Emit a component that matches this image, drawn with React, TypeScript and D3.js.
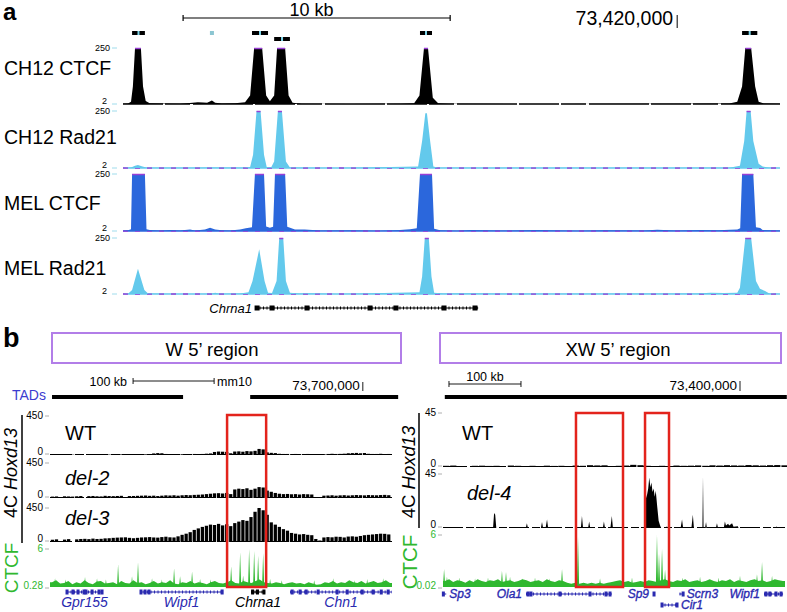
import React from 'react';
import * as d3 from 'd3';

type P = [number, number];

const FONT = "'Liberation Sans', Arial, Helvetica, sans-serif";

// ================= Panel a (positions: kb from window start 73,399,250) =================
const aWindowStartKb = 73399.25;
const aDomain: P = [0, 24.6];
const aTrackNames = ['CH12 CTCF', 'CH12 Rad21', 'MEL CTCF', 'MEL Rad21'];
const aTrackMin = 2;
const aTrackMax = 250;

const ch12Ctcf: P[] = [
  [0, 3], [0.19, 4], [0.3, 12], [0.37, 80], [0.45, 250], [0.67, 250], [0.75, 80], [0.85, 15], [1.0, 5], [1.4, 4],
  [2.13, 3], [2.5, 6], [2.8, 10], [3.0, 9], [3.15, 8], [3.33, 18], [3.45, 8], [3.7, 4], [4.2, 5], [4.57, 10],
  [4.76, 40], [4.91, 250], [5.21, 250], [5.36, 40], [5.5, 14], [5.66, 40], [5.77, 250], [6.07, 250], [6.2, 40],
  [6.35, 8], [6.7, 3], [8.5, 2], [10.4, 3], [10.9, 5], [11.1, 40], [11.27, 250], [11.42, 250], [11.6, 30],
  [11.8, 5], [12.2, 3], [16, 2], [21, 3], [22.7, 4], [23.0, 12], [23.18, 80], [23.3, 250], [23.52, 250],
  [23.67, 80], [23.8, 12], [24.0, 4], [24.6, 3],
];
const ch12Rad21: P[] = [
  [0, 2], [0.3, 4], [0.45, 12], [0.56, 15], [0.7, 10], [0.9, 3], [2.5, 3], [3.3, 4], [4.5, 3], [4.76, 6],
  [4.87, 60], [5.0, 250], [5.15, 250], [5.28, 60], [5.38, 6], [5.55, 5], [5.66, 30], [5.8, 250], [5.95, 250],
  [6.1, 30], [6.25, 4], [8, 2], [11.05, 8], [11.2, 120], [11.32, 240], [11.38, 240], [11.5, 120], [11.62, 8],
  [11.8, 3], [22.7, 3], [23.1, 12], [23.26, 120], [23.35, 250], [23.5, 250], [23.6, 120], [23.8, 20],
  [23.95, 8], [24.2, 3], [24.6, 2],
];
const melCtcf: P[] = [
  [0, 3], [0.19, 5], [0.3, 10], [0.34, 250], [0.82, 250], [0.88, 10], [1.0, 6], [1.39, 4], [1.76, 6], [2.13, 4],
  [2.51, 9], [2.7, 4], [3.07, 8], [3.26, 16], [3.45, 8], [3.7, 5], [4.01, 4], [4.38, 8], [4.6, 14], [4.83, 18],
  [4.94, 250], [5.28, 250], [5.36, 22], [5.5, 16], [5.62, 20], [5.69, 250], [6.07, 250], [6.15, 20], [6.44, 9],
  [6.8, 8], [7.38, 4], [8.5, 5], [9.5, 3], [10.37, 6], [10.75, 10], [11.0, 14], [11.12, 250], [11.57, 250],
  [11.65, 12], [11.87, 5], [12.5, 3], [13.0, 6], [14.1, 4], [15.5, 6], [17.0, 3], [18.0, 5], [19.5, 4],
  [20.0, 7], [20.7, 4], [21.6, 6], [22.3, 5], [22.73, 7], [23.0, 8], [23.11, 14], [23.18, 250], [23.6, 250],
  [23.7, 18], [23.86, 15], [23.95, 6], [24.6, 4],
];
const melRad21: P[] = [
  [0, 2], [0.19, 3], [0.34, 20], [0.56, 114], [0.8, 20], [0.94, 4], [2.0, 2], [3.3, 3], [3.45, 8], [3.6, 3],
  [4.38, 4], [4.7, 10], [4.85, 60], [5.1, 200], [5.3, 60], [5.43, 8], [5.58, 6], [5.75, 60], [5.85, 250],
  [6.0, 250], [6.1, 60], [6.25, 8], [6.6, 4], [7.0, 5], [8.0, 2], [11.1, 10], [11.2, 80], [11.3, 250],
  [11.45, 250], [11.55, 80], [11.65, 8], [12.0, 4], [13, 5], [15, 3], [21.5, 4], [22.0, 8], [22.5, 6], [23.0, 8],
  [23.1, 30], [23.3, 250], [23.52, 250], [23.7, 60], [23.85, 25], [24.04, 15], [24.2, 4], [24.6, 2],
];
const aTrackData = [ch12Ctcf, ch12Rad21, melCtcf, melRad21];
const aPeakCalls: P[] = [[0.34, 0.82], [4.83, 5.43], [5.66, 6.25], [11.12, 11.57], [23.18, 23.75]];
const aPeakCallRow = [0, 0, 1, 0, 0];
const aLonePeak = 3.33;
const aScaleBar: P = [2.25, 12.25];
const aScaleLabel = '10 kb';
const aCoordTickKb = 73420;
const chrna1ASpan: P = [4.98, 13.3];
const chrna1AExons = [5.02, 5.58, 6.89, 9.25, 10.22, 12.02, 13.18];

// ================= Panel b (positions in kb) =================
const bLeftDomain: P = [73314, 73736];
const bRightDomain: P = [72987.5, 73462.5];
const leftBinStart = 73315;
const leftBinKb = 5;
const wtLeft = [
  4, 5, 0, 5, 6, 4, 5, 6, 0, 5, 6, 5, 4, 6, 5,
  6, 5, 7, 0, 6,
  8, 6, 7, 8, 10, 18, 22, 20, 12, 10, 8, 10,
  9, 8, 10, 12, 10,
  12, 15, 18,
  35, 40, 38, 36,
  20, 40, 42, 38, 45,
  42, 48, 70, 65, 30, 25, 22,
  14, 12, 12,
  10, 12, 11, 10, 12, 10,
  0, 4,
  10, 12, 14, 12, 13, 15, 20, 22, 24, 20, 23, 14, 12, 12, 14, 10, 12,
];
const del2Left = [
  18, 20, 0, 22, 20, 18, 22, 25, 0, 24, 26, 22, 20, 28, 25,
  24, 26, 28, 0, 25,
  26, 28, 30, 32, 28, 30, 25, 30, 34, 32, 35, 30,
  35, 38, 36, 40, 42,
  45, 50, 55,
  60, 62, 58, 65,
  50, 110, 120, 115, 125,
  105, 120, 140, 135, 95, 80, 65,
  55, 50, 52,
  48, 50, 45, 50, 48, 45,
  0, 10,
  30, 32, 35, 30, 34, 36, 32, 35, 38, 36, 34, 38, 36, 35, 38, 40, 36,
];
const del3Left = [
  30, 35, 0, 32, 38, 0, 35, 40, 42, 38, 45, 40, 42, 48, 50,
  55, 58, 60, 62, 55,
  50, 55, 60, 62, 65, 60, 58, 65, 70, 62, 60, 75,
  95, 110, 130, 160, 180,
  200, 215, 230,
  225, 240, 220, 235,
  210, 250, 270, 290, 280,
  330, 400, 450, 420, 360, 260, 230,
  200, 170, 150,
  120, 110, 100, 105, 95, 90,
  40, 20,
  60, 65, 62, 70, 68, 60, 72, 75, 70, 80, 90, 95, 100, 105, 110, 108, 100,
];
const leftTracks = [
  { name: 'WT', data: wtLeft },
  { name: 'del-2', data: del2Left },
  { name: 'del-3', data: del3Left },
];
const fourCLeftMax = 450;
const ctcfLeftRange: P = [0.28, 6];
const ctcfLeftBg = [
  1.0, 1.3, 0.8, 0.9, 1.2, 0.7, 1.0, 0.8, 1.3, 0.9, 0.7, 1.1, 1.2, 0.8, 0.9, 1.0, 0.7, 1.2, 0.9, 0.8,
  1.3, 0.9, 1.0, 0.7, 0.9, 1.2, 0.8, 1.0, 0.9, 1.3, 0.8, 0.7, 1.0, 0.9, 1.2, 0.8, 1.0, 0.9, 0.7, 1.0,
  1.2, 0.9, 0.8, 1.0, 1.3, 0.9, 0.8, 1.2, 1.0, 0.9, 1.2, 1.4, 1.0, 0.9, 0.8, 1.0, 0.9, 0.7, 0.9, 1.0,
  0.8, 0.9, 0.7, 1.0, 0.8, 0.6, 0.7, 1.0, 0.9, 1.2, 0.8, 1.0, 0.9, 1.3, 1.0, 0.9, 1.2, 0.8, 1.0, 1.2,
  0.9, 1.0, 1.3, 0.9,
];
const ctcfLeftSpikes: P[] = [
  [73320.2, 1.6], [73333.0, 1.4], [73357.2, 1.8], [73372.0, 1.6], [73383.0, 1.4], [73398.0, 3.7], [73415.2, 1.9],
  [73422.6, 4.0], [73439.9, 1.6], [73452.0, 1.4], [73467.1, 3.1], [73474.5, 1.9], [73489.3, 2.6], [73499.2, 1.5],
  [73512.0, 1.4], [73537.5, 3.4], [73548.6, 5.5], [73552.3, 2.0], [73559.7, 6.0], [73565.9, 5.7], [73570.8, 5.0],
  [73577.0, 5.4], [73585.6, 1.5], [73600.0, 1.3], [73640.0, 1.3], [73663.4, 1.6], [73690.0, 1.3], [73705.4, 1.5],
  [73725.1, 1.6],
];

const rightWtBinKb = 10;
const wtRight = [
  1, 1.2, 0.8, 0, 1, 1.1, 0.9, 1, 0, 1.2, 1, 0.8, 1, 0, 1.1, 0.9, 1, 0.8, 1.2, 1, 1.5, 1.3, 1.4, 0,
  1, 1.2, 1.8, 1.5, 1, 0.8, 1, 0, 1.2, 1, 1.1, 1.3, 1, 1.4, 1.2, 1.5, 1.3, 1.2, 1.6, 1.4, 1.2, 1.5, 1.6, 1.4,
];
const del4Right: P[] = [
  [72988, 0], [73057, 0], [73058.5, 12.5], [73060, 11], [73061.5, 0],
  [73102.5, 0], [73104, 4], [73105.5, 0],
  [73123.5, 0], [73125, 5], [73126.5, 0],
  [73130, 0], [73132, 7], [73133.5, 0],
  [73179, 0], [73180.5, 10], [73182, 0],
  [73189, 0], [73190.5, 5.5], [73192, 0],
  [73209.5, 0], [73211, 5.5], [73212.5, 0],
  [73220, 0], [73222, 10], [73223.5, 0],
  [73268, 0], [73269, 24], [73271, 28], [73272.5, 33], [73274, 42], [73275.5, 34], [73277, 38],
  [73278.5, 30], [73280, 33], [73281.5, 26], [73283, 31], [73285, 18], [73287, 6], [73289, 2], [73290.5, 0],
  [73297, 0], [73298.5, 1.5], [73300, 0],
  [73317.5, 0], [73319.5, 7], [73321, 0],
  [73332.5, 0], [73334.5, 11], [73336, 0],
  [73347.8, 0], [73348.6, 43], [73349.4, 0],
  [73351.5, 0], [73352.8, 5], [73354, 0],
  [73366.5, 0], [73368, 4], [73369.5, 0],
  [73377.5, 0], [73379, 5.5], [73380.5, 2], [73383.5, 3.5], [73385, 2], [73389, 4], [73391, 1], [73397, 1.5], [73398, 0],
  [73450, 0], [73451, 1.5], [73452.5, 0],
  [73462, 0],
];
const fourCRightMax = 45;
const ctcfRightRange: P = [0.02, 6];
const ctcfRightBg = [
  0.7, 0.9, 0.6, 0.8, 0.7, 0.5, 0.8, 0.6, 0.9, 0.7, 0.6, 0.8, 0.7, 0.9, 0.6, 0.7, 0.8, 0.6, 0.7, 0.9,
  0.8, 0.6, 0.7, 0.8, 0.6, 0.9, 0.7, 0.6, 0.8, 0.7, 0.5, 0.4, 0.5, 0.4, 0.5, 0.4, 0.5, 0.4, 0.5, 0.4,
  0.5, 0.6, 0.7, 0.8, 0.6, 0.7, 0.5, 0.6, 0.7, 0.6, 0.8, 0.7, 0.6, 0.8, 0.9, 0.7, 0.6, 0.8, 0.7, 0.9,
  0.6, 0.7, 0.8, 0.6, 0.7, 0.9, 0.7, 0.6, 0.8, 0.7, 0.9, 0.6, 0.8, 0.7, 0.6, 0.8, 0.9, 0.7, 0.8, 0.6,
  0.7, 0.9, 0.8, 0.7,
];
const ctcfRightSpikes: P[] = [
  [72989, 2.1], [72993, 1.2], [73010, 1.1], [73032, 1.0], [73050, 1.1], [73069.4, 1.9], [73075.0, 1.75],
  [73080.6, 1.2], [73098, 1.0], [73115.3, 1.1], [73135, 1.0], [73152.8, 2.1], [73175.0, 5.8], [73205.6, 1.0],
  [73250, 1.1], [73284.7, 6.0], [73287.5, 3.85], [73291.7, 4.4], [73295.9, 2.0], [73320, 1.1], [73344.5, 1.2],
  [73370, 1.1], [73400, 1.3], [73423.6, 1.5], [73430.6, 2.9], [73444.5, 1.3],
];

const tadsLeft: P[] = [[73316.5, 73478.2], [73561, 73743.6]];
const tadsRight: P[] = [[72990, 73465]];
const leftScaleBar: P = [73416.5, 73516.5];
const rightScaleBar: P = [72995.8, 73095.8];
const leftCoordTickKb = 73700;
const rightCoordTickKb = 73400;
const leftRedBoxes: P[] = [[73532.5, 73580.7]];
const rightRedBoxes: P[] = [[73172.2, 73237.5], [73268.1, 73301.4]];

type Gene = { name: string; span: P; exons: number[]; side: string; row: number; black?: boolean };
const leftGenes: Gene[] = [
  { name: 'Gpr155', span: [73335, 73378.2], exons: [73335, 73342.4, 73348.6, 73356, 73358.4, 73365.9, 73374.5, 73378.2], side: 'below', row: 0 },
  { name: 'Wipf1', span: [73425.1, 73527.6], exons: [73426.3, 73431.3, 73436.2, 73526.4], side: 'below', row: 0 },
  { name: 'Chrna1', span: [73562.1, 73579.4], exons: [73564, 73570, 73578], side: 'below', row: 0, black: true },
  { name: 'Chn1', span: [73610.3, 73736], exons: [73612.8, 73622.6, 73630.1, 73644.9, 73668.3, 73680.7, 73699.2, 73712.8, 73722.7, 73731.3], side: 'below', row: 0 },
];
const rightGenes: Gene[] = [
  { name: 'Sp3', span: [72987.5, 72992], exons: [72988], side: 'right', row: 0 },
  { name: 'Ola1', span: [73102.8, 73222.2], exons: [73105.6, 73109.7, 73150, 73191.7, 73213.9, 73219.5], side: 'left', row: 0 },
  { name: 'Sp9', span: [73279.2, 73282], exons: [73280.6], side: 'left', row: 0 },
  { name: 'Scrn3', span: [73316, 73322], exons: [73321], side: 'right', row: 0 },
  { name: 'Wipf1', span: [73433.4, 73459.8], exons: [73436, 73441.5, 73450, 73457], side: 'left', row: 0 },
  { name: 'Cir1', span: [73290.3, 73313.9], exons: [73291.7, 73312.5], side: 'right', row: 1 },
];

// ================= colours =================
const C_CYAN = '#63c9ec';
const C_MELBLUE = '#2b67dc';
const C_PURPLE = '#9a3fd6';
const C_GREEN = '#2fb82f';
const C_RED = '#e3231c';
const C_BOX = '#b27ee8';
const C_GENE = '#2a2ab0';
const C_TAD = '#3c3cd0';

function areaPath(pts: P[], x: d3.ScaleLinear<number, number>, y: d3.ScaleLinear<number, number>) {
  const base = y.range()[0];
  return d3.area<P>().x(d => x(d[0])).y0(base).y1(d => y(d[1]))(pts) || '';
}

function spikePath(s: P[], x: d3.ScaleLinear<number, number>, y: d3.ScaleLinear<number, number>, halfKb: number) {
  const line = d3.line<P>().x(d => x(d[0])).y(d => y(d[1]));
  return s.map(([k, v]) => line([[k - halfKb, y.domain()[0]], [k, v], [k + halfKb, y.domain()[0]]]) + 'Z').join(' ');
}

function bgPoints(bg: number[], domain: P): P[] {
  const w = (domain[1] - domain[0]) / bg.length;
  const pts: P[] = bg.map((v, i) => [domain[0] + (i + 0.5) * w, v] as P);
  return [[domain[0], bg[0]], ...pts, [domain[1], bg[bg.length - 1]]];
}

function GeneMark({ g, x, y, color }: { g: Gene; x: d3.ScaleLinear<number, number>; y: number; color: string }) {
  const x0 = x(g.span[0]);
  const x1 = x(g.span[1]);
  return (
    <g>
      <line x1={x0} x2={x1} y1={y} y2={y} stroke={color} strokeWidth={1} />
      <line x1={x0} x2={x1} y1={y} y2={y} stroke={color} strokeWidth={3} strokeDasharray="1 2.5" />
      {g.exons.map((e, i) => (
        <rect key={i} x={x(e) - 1.5} y={y - 2.5} width={3} height={5} fill={color} />
      ))}
    </g>
  );
}

function PanelA() {
  const xa = d3.scaleLinear().domain(aDomain).range([123, 780]);
  const layout = [
    { top: 48, bottom: 104, label: 75 },
    { top: 111, bottom: 168, label: 144 },
    { top: 174, bottom: 231, label: 210 },
    { top: 238, bottom: 294, label: 275 },
  ];
  const fills = ['#000000', C_CYAN, C_MELBLUE, C_CYAN];
  const coordX = xa(aCoordTickKb - aWindowStartKb);
  return (
    <g>
      <text x={3} y={20} fontSize={24} fontWeight="bold">a</text>
      {/* scale bar */}
      <line x1={xa(aScaleBar[0])} x2={xa(aScaleBar[1])} y1={18} y2={18} stroke="#000" strokeWidth={1.2} />
      <line x1={xa(aScaleBar[0])} x2={xa(aScaleBar[0])} y1={15} y2={21} stroke="#000" strokeWidth={1.2} />
      <line x1={xa(aScaleBar[1])} x2={xa(aScaleBar[1])} y1={15} y2={21} stroke="#000" strokeWidth={1.2} />
      <text x={(xa(aScaleBar[0]) + xa(aScaleBar[1])) / 2 - 5} y={15.5} fontSize={18} textAnchor="middle">{aScaleLabel}</text>
      <text x={coordX - 4} y={25} fontSize={19.5} textAnchor="end">{d3.format(',')(aCoordTickKb * 1000)}</text>
      <line x1={coordX} x2={coordX} y1={15} y2={28} stroke="#000" strokeWidth={1} />
      {/* peak calls */}
      {aPeakCalls.map((p, i) => {
        const yy = aPeakCallRow[i] === 0 ? 31 : 37;
        const cx = xa((p[0] + p[1]) / 2);
        return (
          <g key={i}>
            <rect x={xa(p[0])} y={yy} width={xa(p[1]) - xa(p[0])} height={4} fill="#000" />
            <rect x={cx - 1} y={yy} width={2} height={4} fill="#7fd6ea" />
          </g>
        );
      })}
      <rect x={xa(aLonePeak) - 2} y={31} width={4} height={4} fill="#8cc6d2" />
      {aTrackData.map((data, i) => {
        const L = layout[i];
        const y = d3.scaleLinear().domain([aTrackMin, aTrackMax]).range([L.bottom, L.top]).clamp(true);
        const clipped: P[] = [];
        for (let j = 0; j < data.length - 1; j++) {
          if (data[j][1] >= aTrackMax && data[j + 1][1] >= aTrackMax) clipped.push([data[j][0], data[j + 1][0]]);
        }
        return (
          <g key={i}>
            <text x={4} y={L.label} fontSize={19.5}>{aTrackNames[i]}</text>
            <text x={110} y={L.top + 3} fontSize={9} textAnchor="end">{aTrackMax}</text>
            <line x1={112} x2={117} y1={L.top} y2={L.top} stroke="#9fdcec" strokeWidth={1} />
            <text x={107} y={L.bottom - 0.5} fontSize={9} textAnchor="end">{aTrackMin}</text>
            <line x1={112} x2={117} y1={L.bottom} y2={L.bottom} stroke="#9fdcec" strokeWidth={1} />
            {i === 0 ? (
              <line x1={xa(aDomain[0])} x2={xa(aDomain[1])} y1={L.bottom} y2={L.bottom} stroke="#000" strokeWidth={1.3} strokeDasharray="40 2 25 3 60 2" />
            ) : (
              <g>
                <line x1={xa(aDomain[0])} x2={xa(aDomain[1])} y1={L.bottom} y2={L.bottom} stroke={fills[i]} strokeWidth={1.3} />
                <line x1={xa(aDomain[0])} x2={xa(aDomain[1])} y1={L.bottom} y2={L.bottom} stroke={C_PURPLE} strokeWidth={1.3} strokeDasharray="5 7" />
              </g>
            )}
            <path d={areaPath(data, xa, y)} fill={fills[i]} />
            {clipped.map((c, j) => (
              <line key={j} x1={xa(c[0])} x2={xa(c[1])} y1={L.top + 0.5} y2={L.top + 0.5} stroke={C_PURPLE} strokeWidth={1.5} />
            ))}
          </g>
        );
      })}
      {/* Chrna1 gene */}
      <text x={xa(chrna1ASpan[0]) - 4} y={313} fontSize={13} fontStyle="italic" textAnchor="end">Chrna1</text>
      <GeneMark g={{ name: 'Chrna1', span: chrna1ASpan, exons: [], side: 'left', row: 0 }} x={xa} y={308} color="#000" />
      {chrna1AExons.map((e, i) => (
        <rect key={i} x={xa(e) - 2.5} y={305.5} width={5} height={5} fill="#000" />
      ))}
    </g>
  );
}

function FourCAxisLabels({ x, top, bottom, max, min, color }: { x: number; top: number; bottom: number; max: string; min: string; color: string }) {
  return (
    <g fill={color}>
      <text x={x} y={top + 3} fontSize={10} textAnchor="end">{max}</text>
      <line x1={x + 2} x2={x + 6} y1={top} y2={top} stroke="#999" strokeWidth={0.8} />
      <text x={x} y={bottom} fontSize={10} textAnchor="end">{min}</text>
      <line x1={x + 2} x2={x + 6} y1={bottom - 1} y2={bottom - 1} stroke="#999" strokeWidth={0.8} />
    </g>
  );
}

function PanelB() {
  const xL = d3.scaleLinear().domain(bLeftDomain).range([50, 392]);
  const xR = d3.scaleLinear().domain(bRightDomain).range([443, 785]);
  const leftLayout = [
    { top: 416, bottom: 455, label: 440 },
    { top: 463, bottom: 498, label: 485 },
    { top: 508, bottom: 542, label: 525 },
  ];
  const ctcfL = { top: 549, bottom: 587 };
  const wtR = { top: 413, bottom: 467 };
  const del4R = { top: 474, bottom: 528 };
  const ctcfR = { top: 535, bottom: 587 };
  const binPx = xL(leftBinStart + leftBinKb) - xL(leftBinStart);
  const yCL = d3.scaleLinear().domain(ctcfLeftRange).range([ctcfL.bottom, ctcfL.top]).clamp(true);
  const yCR = d3.scaleLinear().domain(ctcfRightRange).range([ctcfR.bottom, ctcfR.top]).clamp(true);
  const yWR = d3.scaleLinear().domain([0, fourCRightMax]).range([wtR.bottom, wtR.top]);
  const yD4 = d3.scaleLinear().domain([0, fourCRightMax]).range([del4R.bottom, del4R.top]);
  const wtRBinPx = xR(bRightDomain[0] + rightWtBinKb) - xR(bRightDomain[0]);
  return (
    <g>
      <text x={3} y={347} fontSize={27} fontWeight="bold">b</text>
      <rect x={52} y={333} width={349} height={30} fill="none" stroke={C_BOX} strokeWidth={2} />
      <rect x={440} y={333} width={341} height={30} fill="none" stroke={C_BOX} strokeWidth={2} />
      <text x={212} y={356} fontSize={18.5} textAnchor="middle">W 5’ region</text>
      <text x={618} y={356} fontSize={18.5} textAnchor="middle">XW 5’ region</text>

      {/* left scale + coordinate */}
      <text x={xL(leftScaleBar[0]) - 6} y={386} fontSize={12.5} textAnchor="end">100 kb</text>
      <line x1={xL(leftScaleBar[0])} x2={xL(leftScaleBar[1])} y1={381} y2={381} stroke="#000" strokeWidth={0.9} />
      <line x1={xL(leftScaleBar[0])} x2={xL(leftScaleBar[0])} y1={378} y2={384} stroke="#000" strokeWidth={0.9} />
      <line x1={xL(leftScaleBar[1])} x2={xL(leftScaleBar[1])} y1={378} y2={384} stroke="#000" strokeWidth={0.9} />
      <text x={xL(leftScaleBar[1]) + 3} y={386} fontSize={12.5}>mm10</text>
      <text x={xL(leftCoordTickKb) - 3} y={390} fontSize={13.5} textAnchor="end">{d3.format(',')(leftCoordTickKb * 1000)}</text>
      <line x1={xL(leftCoordTickKb)} x2={xL(leftCoordTickKb)} y1={382} y2={391} stroke="#000" strokeWidth={0.9} />
      {/* right scale + coordinate */}
      <text x={(xR(rightScaleBar[0]) + xR(rightScaleBar[1])) / 2} y={381} fontSize={12.5} textAnchor="middle">100 kb</text>
      <line x1={xR(rightScaleBar[0])} x2={xR(rightScaleBar[1])} y1={384} y2={384} stroke="#000" strokeWidth={0.9} />
      <line x1={xR(rightScaleBar[0])} x2={xR(rightScaleBar[0])} y1={381} y2={387} stroke="#000" strokeWidth={0.9} />
      <line x1={xR(rightScaleBar[1])} x2={xR(rightScaleBar[1])} y1={381} y2={387} stroke="#000" strokeWidth={0.9} />
      <text x={xR(rightCoordTickKb) - 3} y={390} fontSize={13.5} textAnchor="end">{d3.format(',')(rightCoordTickKb * 1000)}</text>
      <line x1={xR(rightCoordTickKb)} x2={xR(rightCoordTickKb)} y1={381} y2={391} stroke="#000" strokeWidth={0.9} />

      {/* TADs */}
      <text x={12} y={400} fontSize={14} fill={C_TAD}>TADs</text>
      {tadsLeft.map((t, i) => (
        <rect key={'tl' + i} x={xL(t[0])} y={395} width={xL(t[1]) - xL(t[0])} height={4} fill="#000" />
      ))}
      {tadsRight.map((t, i) => (
        <rect key={'tr' + i} x={xR(t[0])} y={395} width={xR(t[1]) - xR(t[0])} height={4} fill="#000" />
      ))}

      {/* vertical labels & axis lines */}
      <line x1={22} x2={22} y1={415} y2={543} stroke="#000" strokeWidth={1.5} />
      <text transform="translate(17,473) rotate(-90)" fontSize={18} textAnchor="middle">4C <tspan fontStyle="italic">Hoxd13</tspan></text>
      <text transform="translate(17.5,568) rotate(-90)" fontSize={19} textAnchor="middle" fill={C_GREEN}>CTCF</text>
      <line x1={419} x2={419} y1={413} y2={528} stroke="#000" strokeWidth={1.5} />
      <text transform="translate(415,472) rotate(-90)" fontSize={18.5} textAnchor="middle">4C <tspan fontStyle="italic">Hoxd13</tspan></text>
      <text transform="translate(416.5,562) rotate(-90)" fontSize={20.5} textAnchor="middle" fill={C_GREEN}>CTCF</text>

      {/* left 4C tracks */}
      {leftTracks.map((t, i) => {
        const L = leftLayout[i];
        const y = d3.scaleLinear().domain([0, fourCLeftMax]).range([L.bottom, L.top]);
        return (
          <g key={i}>
            <FourCAxisLabels x={43} top={L.top} bottom={L.bottom} max={String(fourCLeftMax)} min="0" color="#000" />
            <line x1={xL(bLeftDomain[0])} x2={xL(bLeftDomain[1])} y1={L.bottom - 0.5} y2={L.bottom - 0.5} stroke="#000" strokeWidth={1} strokeDasharray="22 3 9 2" />
            {t.data.map((v, j) => v > 0 ? (
              <rect key={j} x={xL(leftBinStart + j * leftBinKb)} y={y(v)} width={binPx - 0.8} height={L.bottom - y(v)} fill="#000" />
            ) : null)}
            <text x={65} y={L.label} fontSize={20} fontStyle={i === 0 ? 'normal' : 'italic'}>{t.name}</text>
          </g>
        );
      })}
      {/* left CTCF */}
      <FourCAxisLabels x={43} top={ctcfL.top} bottom={ctcfL.bottom + 2} max={String(ctcfLeftRange[1])} min={String(ctcfLeftRange[0])} color={C_GREEN} />
      <path d={areaPath(bgPoints(ctcfLeftBg, bLeftDomain), xL, yCL)} fill={C_GREEN} />
      <path d={spikePath(ctcfLeftSpikes, xL, yCL, 1.3)} fill={C_GREEN} />

      {/* right WT */}
      <FourCAxisLabels x={436} top={wtR.top} bottom={wtR.bottom} max={String(fourCRightMax)} min="0" color="#000" />
      <line x1={xR(bRightDomain[0])} x2={xR(bRightDomain[1])} y1={wtR.bottom - 0.5} y2={wtR.bottom - 0.5} stroke="#000" strokeWidth={1} strokeDasharray="24 3 10 2" />
      {wtRight.map((v, j) => v > 0 ? (
        <rect key={j} x={xR(bRightDomain[0] + j * rightWtBinKb)} y={yWR(v)} width={wtRBinPx - 1} height={wtR.bottom - yWR(v)} fill="#000" />
      ) : null)}
      <text x={462} y={440} fontSize={20}>WT</text>
      {/* right del-4 */}
      <FourCAxisLabels x={436} top={del4R.top} bottom={del4R.bottom} max={String(fourCRightMax)} min="0" color="#000" />
      <line x1={xR(bRightDomain[0])} x2={xR(bRightDomain[1])} y1={del4R.bottom - 0.5} y2={del4R.bottom - 0.5} stroke="#000" strokeWidth={1} strokeDasharray="20 3 8 2" />
      <path d={areaPath(del4Right, xR, yD4)} fill="#000" />
      <text x={467} y={500} fontSize={20} fontStyle="italic">del-4</text>
      {/* right CTCF */}
      <FourCAxisLabels x={436} top={ctcfR.top} bottom={ctcfR.bottom + 2} max={String(ctcfRightRange[1])} min={String(ctcfRightRange[0])} color={C_GREEN} />
      <path d={areaPath(bgPoints(ctcfRightBg, bRightDomain), xR, yCR)} fill={C_GREEN} />
      <path d={spikePath(ctcfRightSpikes, xR, yCR, 1.6)} fill={C_GREEN} />

      {/* red boxes */}
      {leftRedBoxes.map((b, i) => (
        <rect key={'rl' + i} x={xL(b[0])} y={415} width={xL(b[1]) - xL(b[0])} height={172} fill="none" stroke={C_RED} strokeWidth={2.5} />
      ))}
      {rightRedBoxes.map((b, i) => (
        <rect key={'rr' + i} x={xR(b[0])} y={413} width={xR(b[1]) - xR(b[0])} height={174} fill="none" stroke={C_RED} strokeWidth={2.5} />
      ))}

      {/* genes */}
      {leftGenes.map((g, i) => {
        const color = g.black ? '#000' : C_GENE;
        return (
          <g key={'gl' + i}>
            <GeneMark g={g} x={xL} y={592} color={color} />
            <text x={(xL(g.span[0]) + xL(g.span[1])) / 2} y={607} fontSize={14} fontStyle="italic" textAnchor="middle" fill={color}>{g.name}</text>
          </g>
        );
      })}
      {rightGenes.map((g, i) => {
        const gy = g.row === 0 ? 594 : 605;
        const lx = g.side === 'left' ? xR(g.span[0]) - 4 : xR(g.span[1]) + 3;
        return (
          <g key={'gr' + i}>
            <GeneMark g={g} x={xR} y={gy} color={C_GENE} />
            <text x={lx} y={gy + 4} fontSize={12} fontStyle="italic" textAnchor={g.side === 'left' ? 'end' : 'start'} fill={C_GENE} stroke={C_GENE} strokeWidth={0.35}>{g.name}</text>
          </g>
        );
      })}
    </g>
  );
}

export default function App() {
  return (
    <svg width={787} height={612} viewBox="0 0 787 612" style={{ position: 'absolute', left: 0, top: 0, background: '#fff' }} fontFamily={FONT}>
      <rect x={0} y={0} width={787} height={612} fill="#fff" />
      <PanelA />
      <PanelB />
    </svg>
  );
}
